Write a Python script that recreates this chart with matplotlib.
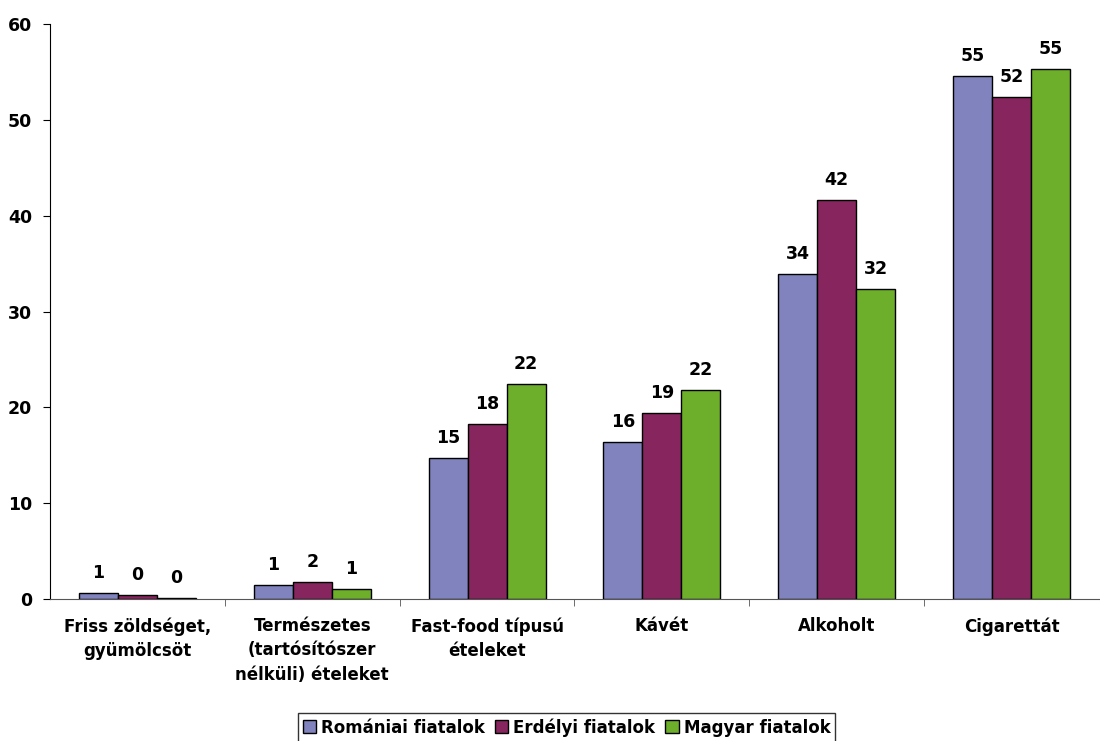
import matplotlib.pyplot as plt
import numpy as np

plt.rcParams['font.family'] = ['DejaVu Sans']
plt.rcParams['font.weight'] = 'bold'

categories = [
    "Friss zöldséget,\ngyümölcsöt",
    "Természetes\n(tartósítószer\nnélküli) ételeket",
    "Fast-food típusú\nételeket",
    "Kávét",
    "Alkoholt",
    "Cigarettát",
]
series_names = ["Romániai fiatalok", "Erdélyi fiatalok", "Magyar fiatalok"]
romaniai = [0.6, 1.45, 14.7, 16.4, 33.9, 54.6]
erdelyi = [0.45, 1.8, 18.3, 19.4, 41.6, 52.4]
magyar = [0.1, 1.0, 22.4, 21.8, 32.3, 55.3]
colors = ["#8083BE", "#87255F", "#6DAF2A"]
y_ticks = [0, 10, 20, 30, 40, 50, 60]

fig = plt.figure(figsize=(11, 7.41), dpi=100)
ax = fig.add_axes([0.0455, 0.1916, 0.9535, 0.776])

x = np.arange(len(categories))
width = 0.223
for i, (vals, name, color) in enumerate(zip([romaniai, erdelyi, magyar], series_names, colors)):
    pos = x + (i - 1) * width
    bars = ax.bar(pos, vals, width, color=color, edgecolor="black", linewidth=1, label=name)
    for b, v in zip(bars, vals):
        ax.annotate(f"{round(v):d}", (b.get_x() + b.get_width() / 2, v),
                    xytext=(0, 8), textcoords="offset points",
                    ha="center", va="bottom", fontsize=12.5, fontweight="bold")

ax.set_xlim(-0.5, len(categories) - 0.5)
ax.set_ylim(0, 60)
ax.set_yticks(y_ticks)
ax.set_xticks(x)
ax.set_xticklabels(categories, fontsize=12, fontweight="bold", linespacing=1.45)
ax.set_xticks(np.arange(0.5, len(categories) - 0.5, 1), minor=True)
ax.tick_params(axis="x", which="major", length=0, pad=13)
ax.tick_params(axis="x", which="minor", length=5, direction="out", color="#555555")
ax.tick_params(axis="y", length=5, direction="out", pad=8, labelsize=12.5)
for lab in ax.get_yticklabels():
    lab.set_fontweight("bold")

for s in ["top", "right"]:
    ax.spines[s].set_visible(False)
ax.spines["bottom"].set_color("#555555")
ax.spines["left"].set_color("black")

leg = fig.legend(loc="lower center", bbox_to_anchor=(0.515, -0.012), ncol=3,
                 frameon=True, fancybox=False, edgecolor="black",
                 handlelength=0.8, handleheight=0.8, handletextpad=0.3,
                 columnspacing=0.6, borderpad=0.3,
                 prop={"size": 12, "weight": "bold"})
leg.get_frame().set_linewidth(1)

fig.savefig("out.png", dpi=100)
